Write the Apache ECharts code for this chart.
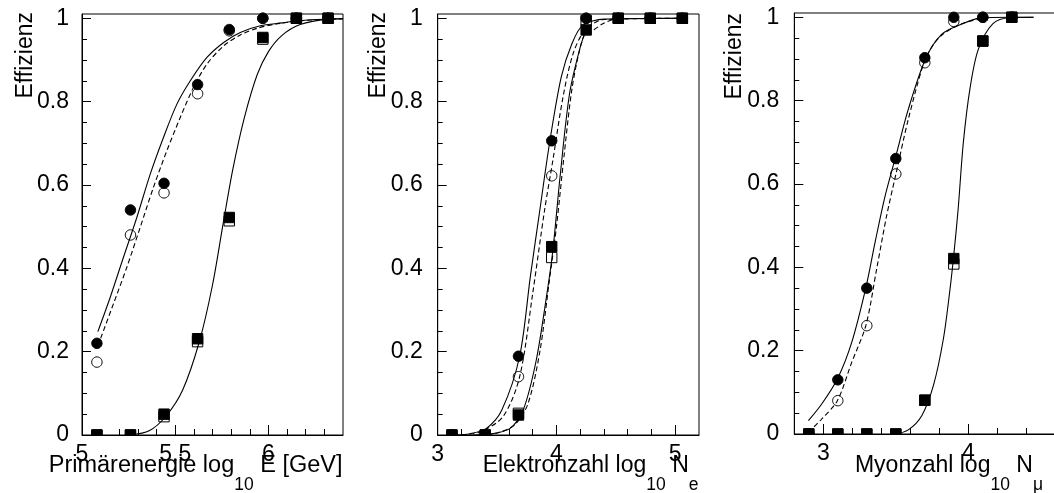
<!DOCTYPE html>
<html>
<head>
<meta charset="utf-8">
<script src="https://cdn.jsdelivr.net/npm/echarts@6/dist/echarts.min.js"></script>
<style>
html,body{margin:0;padding:0;background:#ffffff;}
#chart{width:1054px;height:493px;}
</style>
</head>
<body>
<div id="chart"></div>
<script>
// ---------------- Panel 1: Primärenergie ----------------
const p1X          = [5.08, 5.26, 5.44, 5.62, 5.79, 5.97, 6.15, 6.32];
const p1CircFilled = [0.22, 0.54, 0.604, 0.841, 0.973, 1.0, 1.0, 1.0];
const p1CircOpen   = [0.175, 0.48, 0.581, 0.819, 0.97, 1.0, 1.0, 1.0];
const p1SqFilled   = [0, 0, 0.05, 0.231, 0.522, 0.954, 1.0, 1.0];
const p1SqOpen     = [0, 0, 0.044, 0.224, 0.514, 0.95, 1.0, 1.0];
const p1FitCircX   = [5.085, 5.151, 5.222, 5.294, 5.366, 5.437, 5.509, 5.581, 5.670, 5.760, 5.849, 5.957, 6.075, 6.136, 6.25, 6.4];
const p1FitCircY   = [0.248, 0.33, 0.426, 0.522, 0.626, 0.714, 0.794, 0.85, 0.906, 0.942, 0.966, 0.982, 0.989, 0.993, 0.997, 0.999];
const p1FitOpenX   = [5.1, 5.168, 5.240, 5.312, 5.383, 5.455, 5.527, 5.598, 5.670, 5.760, 5.849, 5.939, 6.05, 6.2, 6.4];
const p1FitOpenY   = [0.232, 0.314, 0.402, 0.498, 0.594, 0.682, 0.762, 0.834, 0.89, 0.934, 0.96, 0.976, 0.987, 0.995, 0.999];
const p1FitSqX     = [5.26, 5.36, 5.45, 5.54, 5.63, 5.70, 5.76, 5.81, 5.87, 5.94, 6.0, 6.07, 6.17, 6.32, 6.4];
const p1FitSqY     = [0.0, 0.01, 0.045, 0.108, 0.225, 0.36, 0.515, 0.64, 0.76, 0.865, 0.92, 0.958, 0.985, 0.998, 0.999];
const p1XMajor     = [5, 5.5, 6];
const p1XMinor     = [5.1, 5.2, 5.3, 5.4, 5.6, 5.7, 5.8, 5.9, 6.1, 6.2, 6.3];

// ---------------- Panel 2: Elektronzahl ----------------
const p2X          = [3.12, 3.40, 3.68, 3.96, 4.25, 4.52, 4.79, 5.06];
const p2CircFilled = [0, 0, 0.189, 0.706, 1.0, 1.0, 1.0, 1.0];
const p2CircOpen   = [0, 0, 0.14, 0.622, 1.0, 1.0, 1.0, 1.0];
const p2SqFilled   = [0, 0, 0.048, 0.452, 0.972, 1.0, 1.0, 1.0];
const p2SqOpen     = [0, 0, 0.052, 0.426, 0.995, 1.0, 1.0, 1.0];
const p2FitCircX   = [3.16, 3.27, 3.41, 3.54, 3.69, 3.78, 3.86, 3.944, 4.04, 4.13, 4.22, 4.4, 5.1];
const p2FitCircY   = [0.0, 0.003, 0.016, 0.06, 0.189, 0.38, 0.54, 0.705, 0.859, 0.939, 0.983, 0.998, 1.0];
const p2FitOpenX   = [3.2, 3.355, 3.55, 3.69, 3.80, 3.90, 3.97, 4.055, 4.14, 4.24, 4.4, 5.1];
const p2FitOpenY   = [0.0, 0.007, 0.044, 0.14, 0.34, 0.54, 0.66, 0.811, 0.915, 0.971, 0.997, 1.0];
const p2FitSqX     = [3.3, 3.44, 3.61, 3.72, 3.83, 3.92, 3.97, 4.03, 4.11, 4.2, 4.25];
const p2FitSqY     = [0.0, 0.002, 0.016, 0.06, 0.18, 0.34, 0.444, 0.619, 0.819, 0.931, 0.971];
const p2FitSqOX    = [3.35, 3.5, 3.65, 3.76, 3.86, 3.94, 4.0, 4.06, 4.13, 4.2, 4.25, 4.31, 4.39, 4.5, 5.1];
const p2FitSqOY    = [0.0, 0.005, 0.025, 0.075, 0.2, 0.37, 0.5, 0.66, 0.83, 0.93, 0.968, 0.972, 0.987, 0.998, 1.0];
const p2XMajor     = [3, 4, 5];
const p2XMinor     = [3.2, 3.4, 3.6, 3.8, 4.2, 4.4, 4.6, 4.8];

// ---------------- Panel 3: Myonzahl ----------------
const p3X          = [2.9, 3.1, 3.3, 3.5, 3.7, 3.9, 4.1, 4.3];
const p3CircFilled = [0, 0.13, 0.35, 0.661, 0.903, 1.0, 1.0, 1.0];
const p3CircOpen   = [0, 0.08, 0.26, 0.624, 0.891, 0.99, 1.0, 1.0];
const p3SqFilled   = [0, 0, 0, 0, 0.081, 0.421, 0.943, 1.0];
const p3SqOpen     = [0, 0, 0, 0, 0.081, 0.408, 0.943, 1.0];
const p3FitCircX   = [2.897, 2.989, 3.097, 3.196, 3.294, 3.357, 3.426, 3.501, 3.586, 3.706, 3.816, 3.943, 4.08, 4.3, 4.45];
const p3FitCircY   = [0.032, 0.072, 0.132, 0.22, 0.352, 0.46, 0.571, 0.668, 0.779, 0.901, 0.959, 0.982, 0.998, 1.0, 1.0];
const p3FitOpenX   = [2.897, 2.989, 3.097, 3.196, 3.294, 3.368, 3.437, 3.501, 3.586, 3.69, 3.75, 3.82, 3.95, 4.1];
const p3FitOpenY   = [0.004, 0.036, 0.08, 0.172, 0.261, 0.396, 0.524, 0.624, 0.755, 0.887, 0.93, 0.958, 0.984, 0.997];
const p3FitSqX     = [3.494, 3.586, 3.679, 3.759, 3.828, 3.874, 3.90, 3.93, 3.966, 4.012, 4.069, 4.17, 4.288, 4.45];
const p3FitSqY     = [0.0, 0.01, 0.044, 0.116, 0.228, 0.348, 0.43, 0.54, 0.70, 0.83, 0.923, 0.985, 0.999, 1.0];
const p3XMajor     = [3, 4];
const p3XMinor     = [3.2, 3.4, 3.6, 3.8, 4.2, 4.4, 4.6];

// ---------------- shared y ticks ----------------
const yMajor = [0, 0.2, 0.4, 0.6, 0.8, 1];
const yMinor = [0.05, 0.1, 0.15, 0.25, 0.3, 0.35, 0.45, 0.5, 0.55, 0.65, 0.7, 0.75, 0.85, 0.9, 0.95];

const yTitle = 'Effizienz';
const xTitles = [
  '{m|Primärenergie log}{s|10}{m| E [GeV]}',
  '{m|Elektronzahl log}{s|10}{m| N}{s|e}',
  '{m|Myonzahl log}{s|10}{m| N}{s|μ}'
];

const FF = '"Liberation Sans", Arial, Helvetica, sans-serif';
const BLACK = '#000000';
const W = 1054;

function zip(xs, ys) { return xs.map((x, i) => [x, ys[i]]); }

const panels = [
  { left: 82,  top: 14, width: 261, height: 421, xmin: 5, xmax: 6.4, major: p1XMajor, minor: p1XMinor,
    ylm: 13, yPad: 45, yGap: 2, titleRight: 342.5, titleSize: 23.5,
    pts: [p1X, p1CircOpen, p1CircFilled, p1SqOpen, p1SqFilled],
    fits: [[p1FitCircX, p1FitCircY, false], [p1FitOpenX, p1FitOpenY, true], [p1FitSqX, p1FitSqY, false]] },
  { left: 437.7, top: 14, width: 261.3, height: 421, xmin: 3, xmax: 5.2, major: p2XMajor, minor: p2XMinor,
    ylm: 15, yPad: 48, yGap: 2, titleRight: 698.5, titleSize: 23,
    pts: [p2X, p2CircOpen, p2CircFilled, p2SqOpen, p2SqFilled],
    fits: [[p2FitCircX, p2FitCircY, false], [p2FitOpenX, p2FitOpenY, true], [p2FitSqX, p2FitSqY, false], [p2FitSqOX, p2FitSqOY, true]] },
  { left: 794.3, top: 13, width: 290, height: 421, xmin: 2.8, xmax: 4.8, major: p3XMajor, minor: p3XMinor,
    ylm: 15, yPad: 48, yGap: 0, titleRight: 1043, titleSize: 23,
    pts: [p3X, p3CircOpen, p3CircFilled, p3SqOpen, p3SqFilled],
    fits: [[p3FitCircX, p3FitCircY, false], [p3FitOpenX, p3FitOpenY, true], [p3FitSqX, p3FitSqY, false]] }
];

const YMAX = 1.0103;
const grid = [], xAxis = [], yAxis = [], series = [], title = [];

function richStyles(size) {
  return {
    m: { fontSize: size, lineHeight: 24, verticalAlign: 'top', fontFamily: FF, color: BLACK, fontWeight: 'normal' },
    s: { fontSize: 17.5, lineHeight: 40, verticalAlign: 'bottom', fontFamily: FF, color: BLACK, fontWeight: 'normal' }
  };
}

// markers are clipped only at the bottom axis (like the original plot)
function markerSeries(gi, data, shape, filled, z) {
  return {
    type: 'custom', xAxisIndex: gi * 2, yAxisIndex: gi * 2, clip: false, z: z,
    data: data, silent: true,
    renderItem: function (params, api) {
      const p = api.coord([api.value(0), api.value(1)]);
      const cs = params.coordSys;
      const bounds = { x: cs.x - 30, y: cs.y - 30, width: cs.width + 60, height: cs.height + 30 };
      const style = { fill: filled ? BLACK : 'none', stroke: BLACK, lineWidth: 1 };
      if (shape === 'rect') {
        const s = 10.4;
        const r = echarts.graphic.clipRectByRect({ x: p[0] - s / 2, y: p[1] - s / 2, width: s, height: s }, bounds);
        if (!r) return null;
        return { type: 'rect', shape: r, style: style };
      }
      const rad = 5.2, pts = [];
      for (let k = 0; k < 36; k++) {
        const a = k / 36 * Math.PI * 2;
        pts.push([p[0] + rad * Math.cos(a), p[1] + rad * Math.sin(a)]);
      }
      const cp = echarts.graphic.clipPointsByRect(pts, bounds);
      return { type: 'polygon', shape: { points: cp }, style: style };
    }
  };
}

panels.forEach((P, gi) => {
  grid.push({ left: P.left, top: P.top, width: P.width, height: P.height, show: true,
    borderColor: BLACK, borderWidth: 1, backgroundColor: 'transparent', containLabel: false, outerBoundsMode: 'none' });
  title.push({
    text: xTitles[gi], right: W - P.titleRight, top: 454, padding: 0, itemGap: 0,
    textStyle: { fontSize: P.titleSize, fontFamily: FF, color: BLACK, fontWeight: 'normal', rich: richStyles(P.titleSize) }
  });
  // main x axis: major ticks + labels
  xAxis.push({
    type: 'value', gridIndex: gi, min: P.xmin, max: P.xmax, position: 'bottom',
    axisLine: { show: true, onZero: false, lineStyle: { color: BLACK, width: 1 } },
    axisTick: { show: true, inside: true, length: 10, customValues: P.major, lineStyle: { color: BLACK, width: 1 } },
    axisLabel: { show: true, customValues: P.major, margin: 8, color: BLACK, fontSize: 23, fontFamily: FF,
      formatter: v => String(v) },
    splitLine: { show: false }, minorTick: { show: false }
  });
  // minor x ticks
  xAxis.push({
    type: 'value', gridIndex: gi, min: P.xmin, max: P.xmax, position: 'bottom',
    axisLine: { show: false },
    axisTick: { show: true, inside: true, length: 6, customValues: P.minor, lineStyle: { color: BLACK, width: 1 } },
    axisLabel: { show: false }, splitLine: { show: false }
  });
  yAxis.push({
    type: 'value', gridIndex: gi, min: 0, max: YMAX, position: 'left',
    axisLine: { show: true, onZero: false, lineStyle: { color: BLACK, width: 1 } },
    axisTick: { show: true, inside: true, length: 9, customValues: yMajor, lineStyle: { color: BLACK, width: 1 } },
    axisLabel: { show: true, customValues: yMajor, margin: P.ylm, color: BLACK, fontSize: 23, fontFamily: FF,
      formatter: v => String(v) },
    splitLine: { show: false }, minorTick: { show: false },
    name: yTitle, nameLocation: 'end', nameRotate: 90, nameGap: P.yGap, nameMoveOverlap: false,
    nameTextStyle: { align: 'right', verticalAlign: 'bottom', lineHeight: 23, padding: [0, 0, P.yPad, 0],
      color: BLACK, fontFamily: FF, fontSize: 23 }
  });
  yAxis.push({
    type: 'value', gridIndex: gi, min: 0, max: YMAX, position: 'left',
    axisLine: { show: false },
    axisTick: { show: true, inside: true, length: 5, customValues: yMinor, lineStyle: { color: BLACK, width: 1 } },
    axisLabel: { show: false }, splitLine: { show: false }
  });

  P.fits.forEach(f => {
    series.push({
      type: 'line', xAxisIndex: gi * 2, yAxisIndex: gi * 2, data: zip(f[0], f[1]),
      showSymbol: false, symbol: 'none', smooth: 0.3, clip: true, silent: true, z: 2,
      lineStyle: { color: BLACK, width: 1.1, type: f[2] ? [5, 3] : 'solid' }
    });
  });
  const xs = P.pts[0];
  series.push(markerSeries(gi, zip(xs, P.pts[1]), 'circle', false, 3));
  series.push(markerSeries(gi, zip(xs, P.pts[2]), 'circle', true, 4));
  series.push(markerSeries(gi, zip(xs, P.pts[3]), 'rect', false, 5));
  series.push(markerSeries(gi, zip(xs, P.pts[4]), 'rect', true, 6));
});

const chart = echarts.init(document.getElementById('chart'), null, { renderer: 'canvas' });
chart.setOption({
  backgroundColor: '#ffffff',
  animation: false,
  title: title,
  grid: grid,
  xAxis: xAxis,
  yAxis: yAxis,
  series: series
});
</script>
</body>
</html>
